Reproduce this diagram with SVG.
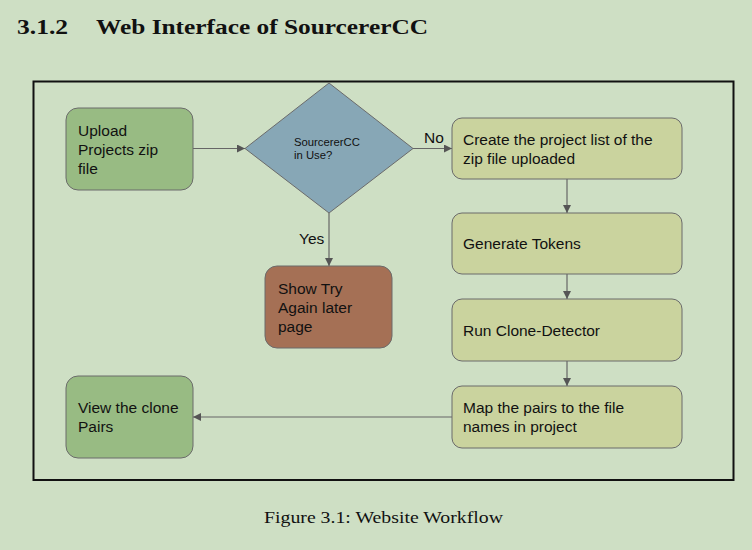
<svg xmlns="http://www.w3.org/2000/svg" width="752" height="550" viewBox="0 0 752 550">
<style>
.box{stroke:#6b6b6b;stroke-width:1}
.t{font-family:"Liberation Sans",Arial,sans-serif;font-size:15.5px;fill:#111}
.s{font-family:"Liberation Sans",Arial,sans-serif;font-size:11.3px;fill:#111}
.c{stroke:#666;stroke-width:1.2;fill:none;marker-end:url(#ah)}
.serif{font-family:"Liberation Serif","Times New Roman",serif;fill:#111}
</style>
<defs>
<marker id="ah" viewBox="0 0 10 10" refX="10" refY="5" markerWidth="8" markerHeight="8" markerUnits="userSpaceOnUse" orient="auto">
<path d="M0,0 L10,5 L0,10 z" fill="#555"/>
</marker>
</defs>
<rect width="752" height="550" fill="#cedfc4"/>
<text class="serif" x="17" y="34" font-size="22" font-weight="bold" textLength="51" lengthAdjust="spacingAndGlyphs">3.1.2</text>
<text class="serif" x="96" y="34" font-size="22" font-weight="bold" textLength="332" lengthAdjust="spacingAndGlyphs">Web Interface of SourcererCC</text>
<rect x="33.5" y="81.5" width="700" height="398.5" fill="none" stroke="#111" stroke-width="2"/>
<g id="connectors">
<line class="c" x1="193" y1="148.5" x2="245" y2="148.5"/>
<line class="c" x1="413" y1="148.5" x2="452" y2="148.5"/>
<line class="c" x1="329" y1="213" x2="329" y2="266"/>
<line class="c" x1="567" y1="179" x2="567" y2="213"/>
<line class="c" x1="567" y1="274" x2="567" y2="299"/>
<line class="c" x1="567" y1="361" x2="567" y2="386"/>
<line class="c" x1="452" y1="417" x2="193" y2="417"/>
<text class="t" x="424" y="143">No</text>
<text class="t" x="299" y="244">Yes</text>
</g>
<g id="upload">
<rect class="box" x="66" y="108" width="127" height="82" rx="12" fill="#98bb83"/>
<text class="t" x="78" y="136">Upload</text>
<text class="t" x="78" y="155">Projects zip</text>
<text class="t" x="78" y="174">file</text>
</g>
<g id="decision">
<polygon class="box" points="329,83 413,148.5 329,213 245,148.5" fill="#87a7b6"/>
<text class="s" x="294" y="146">SourcererCC</text>
<text class="s" x="294" y="159">in Use?</text>
</g>
<g id="create">
<rect class="box" x="452" y="118" width="230" height="61" rx="10" fill="#cad39e"/>
<text class="t" x="463" y="145">Create the project list of the</text>
<text class="t" x="463" y="164">zip file uploaded</text>
</g>
<g id="tokens">
<rect class="box" x="452" y="213" width="230" height="61" rx="10" fill="#cad39e"/>
<text class="t" x="463" y="249">Generate Tokens</text>
</g>
<g id="tryagain">
<rect class="box" x="265" y="266" width="127" height="82" rx="12" fill="#a57055"/>
<text class="t" x="278" y="294">Show Try</text>
<text class="t" x="278" y="313">Again later</text>
<text class="t" x="278" y="332">page</text>
</g>
<g id="detector">
<rect class="box" x="452" y="299" width="230" height="62" rx="10" fill="#cad39e"/>
<text class="t" x="463" y="336">Run Clone-Detector</text>
</g>
<g id="map">
<rect class="box" x="452" y="386" width="230" height="62" rx="10" fill="#cad39e"/>
<text class="t" x="463" y="413">Map the pairs to the file</text>
<text class="t" x="463" y="432">names in project</text>
</g>
<g id="view">
<rect class="box" x="66" y="376" width="127" height="82" rx="12" fill="#98bb83"/>
<text class="t" x="78" y="413">View the clone</text>
<text class="t" x="78" y="432">Pairs</text>
</g>
<text class="serif" x="264" y="523" font-size="16.5" textLength="239" lengthAdjust="spacingAndGlyphs">Figure 3.1: Website Workflow</text>
</svg>
